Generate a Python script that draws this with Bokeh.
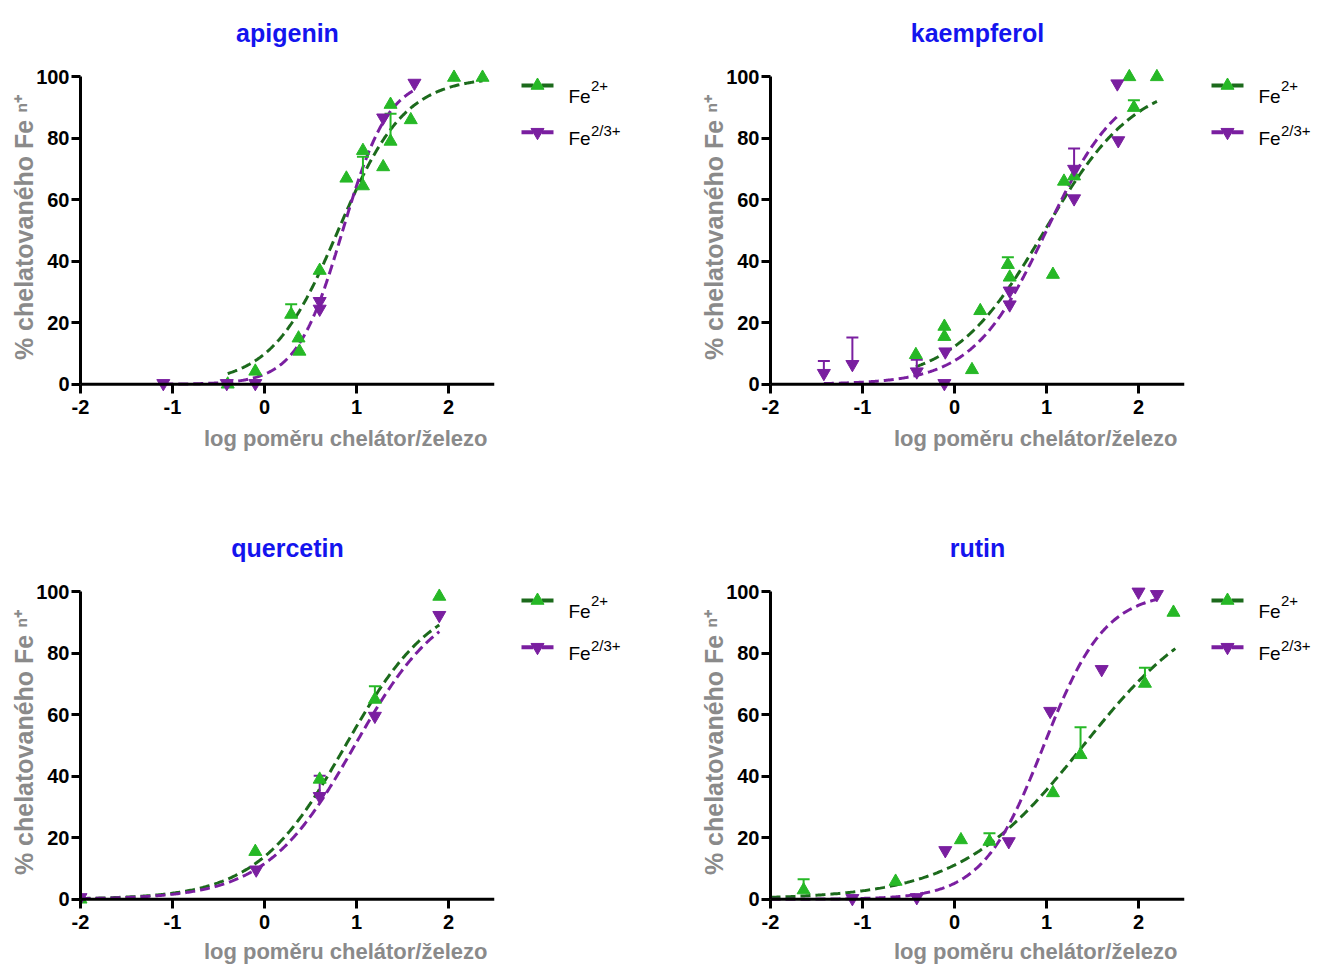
import numpy as np
from bokeh.plotting import figure
from bokeh.models import Range1d, FixedTicker, Span, Title
from bokeh.layouts import row, column
from bokeh.embed import file_html
from bokeh.resources import INLINE
from bokeh.core.properties import value

# ---------------- data ----------------
titles = ["apigenin", "kaempferol", "quercetin", "rutin"]
x_ticks = [-2, -1, 0, 1, 2]
y_ticks = [0, 20, 40, 60, 80, 100]
x_title = "log poměru chelátor/železo"
y_title = "% chelatovaného Fe ⁿ⁺"

# apigenin
api_g_x = [-0.40, -0.10, 0.29, 0.37, 0.38, 0.60, 0.89, 1.07, 1.07, 1.29, 1.37, 1.37, 1.59, 2.06, 2.37]
api_g_y = [0.0, 4.2, 22.7, 15.0, 10.7, 37.0, 67.0, 76.0, 64.5, 70.7, 91.0, 79.0, 86.0, 99.8, 99.8]
api_g_ex = [0.29, 1.07, 1.37]
api_g_ey = [22.7, 64.5, 79.0]
api_g_et = [26.0, 74.0, 88.0]
api_p_x = [-1.10, -0.41, -0.10, 0.60, 0.60, 1.29, 1.63]
api_p_y = [0.3, 0.3, 0.3, 27.0, 24.5, 86.7, 98.0]
api_p_ex, api_p_ey, api_p_et = [], [], []

# kaempferol
kae_g_x = [-0.42, -0.11, -0.11, 0.19, 0.28, 0.58, 0.60, 1.07, 1.19, 1.30, 1.90, 1.95, 2.20]
kae_g_y = [9.6, 18.8, 15.5, 4.7, 23.9, 38.9, 34.8, 35.7, 66.0, 67.7, 100.0, 90.0, 100.0]
kae_g_ex = [0.58, 1.95]
kae_g_ey = [38.9, 90.0]
kae_g_et = [41.3, 92.4]
kae_p_x = [-1.42, -1.11, -0.41, -0.10, -0.11, 0.60, 0.60, 1.30, 1.30, 1.77, 1.78]
kae_p_y = [3.6, 6.5, 4.1, 10.6, 0.3, 30.4, 25.9, 70.0, 60.4, 97.8, 79.3]
kae_p_ex = [-1.42, -1.11, -0.41, 1.30]
kae_p_ey = [3.6, 6.5, 4.1, 70.0]
kae_p_et = [7.6, 15.2, 8.0, 76.7]

# quercetin
que_g_x = [-2.0, -0.10, 0.60, 1.20, 1.90]
que_g_y = [0.0, 15.5, 39.0, 65.0, 98.5]
que_g_ex, que_g_ey, que_g_et = [1.20], [65.0], [69.3]
que_p_x = [-2.0, -0.09, 0.60, 1.20, 1.90]
que_p_y = [0.6, 9.6, 33.5, 59.6, 92.4]
que_p_ex, que_p_ey, que_p_et = [0.60], [33.5], [40.2]

# rutin
rut_g_x = [-1.64, -0.64, 0.07, 0.38, 1.07, 1.37, 2.07, 2.38]
rut_g_y = [3.0, 5.8, 19.3, 18.8, 34.6, 47.0, 70.2, 93.3]
rut_g_ex = [-1.64, 0.38, 1.37, 2.07]
rut_g_ey = [3.0, 18.8, 47.0, 70.2]
rut_g_et = [6.5, 21.5, 56.0, 75.3]
rut_p_x = [-1.11, -0.41, -0.10, 0.59, 1.04, 1.60, 2.00, 2.20]
rut_p_y = [0.3, 0.6, 15.9, 18.8, 61.2, 74.8, 100.0, 99.2]
rut_p_ex, rut_p_ey, rut_p_et = [], [], []

# sigmoidal dose-response fits (bottom 0, top 100): logEC50, Hill slope, x-span
fit_g_ec50 = [0.80, 0.98, 0.88, 1.40]
fit_g_hill = [1.20, 0.87, 0.90, 0.645]
fit_g_xmin = [-0.40, -0.42, -2.0, -2.0]
fit_g_xmax = [2.37, 2.20, 1.90, 2.40]
fit_p_ec50 = [0.85, 1.00, 0.98, 0.97]
fit_p_hill = [1.73, 1.08, 0.90, 1.30]
fit_p_xmin = [-1.10, -1.42, -2.0, -2.0]
fit_p_xmax = [1.63, 1.78, 1.90, 2.20]

legend_base = "Fe"
legend_sup = ["2+", "2/3+"]

green_mk = "#26b826"
green_ln = "#1c6a1c"
purple = "#7a1fa0"
title_blue = "#1414ee"
grey = "#8a8a8a"
FONT = "Liberation Sans"

panels = [
    (api_g_x, api_g_y, api_g_ex, api_g_ey, api_g_et, api_p_x, api_p_y, api_p_ex, api_p_ey, api_p_et),
    (kae_g_x, kae_g_y, kae_g_ex, kae_g_ey, kae_g_et, kae_p_x, kae_p_y, kae_p_ex, kae_p_ey, kae_p_et),
    (que_g_x, que_g_y, que_g_ex, que_g_ey, que_g_et, que_p_x, que_p_y, que_p_ex, que_p_ey, que_p_et),
    (rut_g_x, rut_g_y, rut_g_ex, rut_g_ey, rut_g_et, rut_p_x, rut_p_y, rut_p_ex, rut_p_ey, rut_p_et),
]

# ---------------- layout sizes ----------------
WM = 504          # main figure width
BL = 80           # left border
BR = 10
BT = 61
FH = 332
WL_left = 186
WL_right = 126
H_TOP = 515
H_BOT = 454


def sigmoid(xs, ec50, hill):
    return 100.0 / (1.0 + 10.0 ** ((ec50 - xs) * hill))


def make_main(i, height, bottom_border, xt_standoff):
    gx, gy, gex, gey, get, px, py, pex, pey, pet = panels[i]
    p = figure(width=WM, height=height, x_range=Range1d(-2, 2.5), y_range=Range1d(-3, 105),
               output_backend="svg", toolbar_location=None,
               min_border_left=BL, min_border_right=BR, min_border_top=BT,
               min_border_bottom=bottom_border, title=titles[i])
    p.outline_line_color = None
    p.grid.visible = False
    p.title.align = "center"
    p.title.text_color = title_blue
    p.title.text_font = FONT
    p.title.text_font_size = "25px"
    p.title.text_font_style = "bold"
    p.title.standoff = 30

    for ax in (p.xaxis[0], p.yaxis[0]):
        ax.major_tick_line_width = 3
        ax.minor_tick_line_color = None
        ax.major_label_text_font = FONT
        ax.major_label_text_font_size = "20px"
        ax.major_label_text_font_style = "bold"
        ax.major_label_text_color = "black"
    # y axis at the frame's left edge (x = -2)
    p.yaxis.axis_line_width = 3
    p.yaxis.bounds = (0, 100)
    p.yaxis.major_tick_in = 0
    p.yaxis.major_tick_out = 9
    p.yaxis.major_label_standoff = 2
    p.yaxis.ticker = FixedTicker(ticks=y_ticks)
    p.yaxis.axis_label = y_title
    p.yaxis.axis_label_text_font = FONT
    p.yaxis.axis_label_text_font_size = "25px"
    p.yaxis.axis_label_text_font_style = "bold"
    p.yaxis.axis_label_text_color = grey
    p.yaxis.axis_label_standoff = -5
    # x axis: labels below the frame, the zero line drawn at y = 0
    p.xaxis.axis_line_color = None
    p.xaxis.major_tick_in = 9
    p.xaxis.major_tick_out = 0
    p.xaxis.major_label_standoff = 6
    p.xaxis.ticker = FixedTicker(ticks=x_ticks)
    p.xaxis.major_label_overrides = {t: str(t) for t in x_ticks}
    p.add_layout(Span(location=0, dimension="width", line_color="black", line_width=3))
    p.add_layout(Title(text=x_title, align="right", offset=7, standoff=xt_standoff,
                       text_font=FONT, text_font_size="22px", text_font_style="bold",
                       text_color=grey), "below")

    # fitted curves
    xs = np.linspace(fit_g_xmin[i], fit_g_xmax[i], 300)
    p.line(xs, sigmoid(xs, fit_g_ec50[i], fit_g_hill[i]), line_color=green_ln,
           line_width=3, line_dash="10 5")
    xs = np.linspace(fit_p_xmin[i], fit_p_xmax[i], 300)
    p.line(xs, sigmoid(xs, fit_p_ec50[i], fit_p_hill[i]), line_color=purple,
           line_width=3, line_dash="10 5")

    # error bars (upper only)
    if gex:
        p.segment(x0=gex, y0=gey, x1=gex, y1=get, line_color=green_mk, line_width=2)
        p.scatter(x=gex, y=get, marker="dash", size=12, line_color=green_mk, line_width=2)
    if pex:
        p.segment(x0=pex, y0=pey, x1=pex, y1=pet, line_color=purple, line_width=2)
        p.scatter(x=pex, y=pet, marker="dash", size=12, line_color=purple, line_width=2)

    # points
    p.scatter(x=gx, y=gy, marker="triangle", size=13, fill_color=green_mk, line_color=green_mk)
    p.scatter(x=px, y=py, marker="inverted_triangle", size=13, fill_color=purple, line_color=purple)
    return p


def make_legend(width, height):
    bb = height - BT - FH
    # frame spans the same rows as the main plot: y in pixels from the figure top
    q = figure(width=width, height=height, x_range=Range1d(0, width), y_range=Range1d(BT + FH, BT),
               output_backend="svg", toolbar_location=None, x_axis_type=None, y_axis_type=None,
               min_border_left=0, min_border_right=0, min_border_top=BT, min_border_bottom=bb)
    q.title = None
    q.outline_line_color = None
    rows = [(85.0, 96.3, 85.0, green_ln, green_mk, "triangle"),
            (131.7, 138.0, 130.0, purple, purple, "inverted_triangle")]
    for k, (ly, tb, sb, lc, mc, mk) in enumerate(rows):
        q.line([17, 49], [ly, ly], line_color=lc, line_width=4, line_dash="12 8")
        q.scatter([33], [ly], marker=mk, size=13, fill_color=mc, line_color=mc)
        q.text([64], [tb], text=[legend_base], text_font=value(FONT), text_font_size="19px",
               text_baseline="alphabetic", text_color="black")
        q.text([86.5], [sb], text=[legend_sup[k]], text_font=value(FONT), text_font_size="15px",
               text_baseline="alphabetic", text_color="black")
    return q


m1 = make_main(0, H_TOP, H_TOP - BT - FH, 14)
m2 = make_main(1, H_TOP, H_TOP - BT - FH, 14)
m3 = make_main(2, H_BOT, H_BOT - BT - FH, 10)
m4 = make_main(3, H_BOT, H_BOT - BT - FH, 10)
l1 = make_legend(WL_left, H_TOP)
l2 = make_legend(WL_right, H_TOP)
l3 = make_legend(WL_left, H_BOT)
l4 = make_legend(WL_right, H_BOT)

layout = column(row(m1, l1, m2, l2), row(m3, l3, m4, l4))
open("out.html", "w").write(file_html(layout, INLINE))
